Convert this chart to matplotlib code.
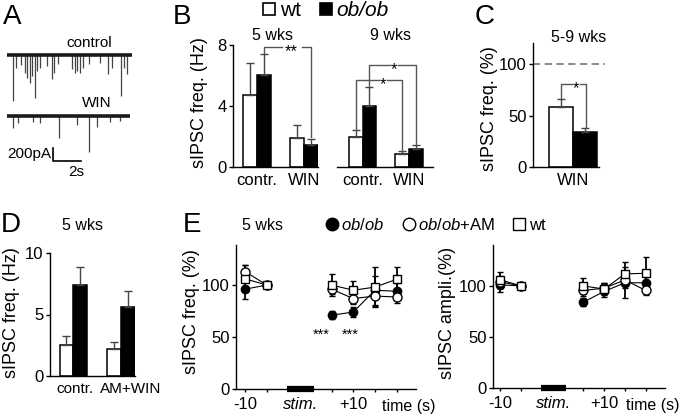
import numpy as np
import matplotlib
matplotlib.use('Agg')
import matplotlib.pyplot as plt
from matplotlib.lines import Line2D

plt.rcParams['font.family'] = ['Liberation Sans', 'DejaVu Sans']
plt.rcParams['font.size'] = 12
plt.rcParams['mathtext.fontset'] = 'custom'
plt.rcParams['mathtext.rm'] = 'Liberation Sans'
plt.rcParams['mathtext.it'] = 'Liberation Sans:italic'
plt.rcParams['axes.linewidth'] = 1.0

W, H = 680, 420

# --- A: example traces (event time s, amplitude pA) ---
ctrl_t = [0.45, 0.64, 0.98, 1.29, 1.45, 1.64, 1.81, 2.0, 2.17, 2.36, 2.83, 3.19, 3.36, 3.67,
          4.62, 4.86, 5.02, 5.21, 5.45, 5.88, 6.64, 7.24, 7.48, 8.12, 8.36, 8.55]
ctrl_amp = [708, 195, 150, 270, 350, 430, 320, 660, 245, 195, 170, 370, 270, 140,
            220, 270, 245, 270, 195, 140, 120, 300, 195, 630, 195, 300]
win_t = [0.45, 0.81, 1.88, 2.36, 3.74, 4.98, 5.88, 6.4, 7.36, 8.07]
win_amp = [190, 110, 90, 110, 345, 140, 550, 165, 90, 80]
trace_len = 8.9

# --- B: sIPSC freq (Hz) ---
b_groups = ['contr.', 'WIN']
b5_wt = [4.75, 1.93]
b5_wt_err = [2.05, 0.8]
b5_ob = [6.0, 1.47]
b5_ob_err = [1.39, 0.35]
b9_wt = [1.97, 0.83]
b9_wt_err = [0.43, 0.2]
b9_ob = [3.98, 1.18]
b9_ob_err = [1.27, 0.29]

# --- C: 5-9 wks, % ---
c_wt, c_wt_err = 58, 8
c_ob, c_ob_err = 34, 4

# --- D: 5 wks (Hz) ---
d_groups = ['contr.', 'AM+WIN']
d_wt = [2.51, 2.16]
d_wt_err = [0.76, 0.62]
d_ob = [7.38, 5.62]
d_ob_err = [1.48, 1.27]

# --- E: time course (%) ---
e_pos = [0, 1, 4, 5, 6, 7]
e_ticks = [0, 1, 4, 5, 6, 7, 8]
e_ticklabels = ['-10', '', '', '+10', '', '', '']
stim_on, stim_off = 1.95, 3.18

freq_ob = [96, 100, 71, 74, 95, 94]
freq_ob_err = [9.5, 0, 4, 5, 14, 8]
freq_obam = [113, 100, 96, 87, 89.4, 88.5]
freq_obam_err = [6, 0, 5, 5, 10, 6]
freq_wt = [106, 100, 100, 95, 98, 105.5]
freq_wt_err = [13, 0, 10.6, 9, 19, 12]

amp_ob = [101, 100, 84, 94.5, 103, 103]
amp_ob_err = [7, 0, 4, 5, 15, 6]
amp_obam = [104, 100, 95.5, 97.7, 105.8, 95.5]
amp_obam_err = [6, 0, 5, 5, 8, 4.5]
amp_wt = [106, 100, 100, 96.8, 111.7, 112.3]
amp_wt_err = [8, 0, 8, 6, 11.7, 15.6]

fig = plt.figure(figsize=(6.8, 4.2), dpi=100)


def box(l, t, r, b):
    return [l / W, 1 - b / H, (r - l) / W, (b - t) / H]


def label(x, y, s, **kw):
    kw.setdefault('ha', 'center')
    fig.text(x / W, 1 - y / H, s, va='center', **kw)


def style(ax, left=True):
    for s in ['top', 'right']:
        ax.spines[s].set_visible(False)
    if not left:
        ax.spines['left'].set_visible(False)
        ax.set_yticks([])
    ax.tick_params(axis='y', length=3, width=1, pad=1.5, labelsize=12)
    ax.tick_params(axis='x', length=0, pad=4, labelsize=12)


def bars(ax, wt, wt_err, ob, ob_err, w):
    x = np.arange(len(wt))
    ekw = dict(ecolor='#444444', capsize=3, elinewidth=1.0, capthick=1.0)
    ax.bar(x - w / 2, wt, w, yerr=[np.zeros(len(x)), wt_err], color='white',
           edgecolor='black', linewidth=1.1, error_kw=ekw)
    ax.bar(x + w / 2, ob, w, yerr=[np.zeros(len(x)), ob_err], color='black',
           edgecolor='black', linewidth=1.1, error_kw=ekw)


def bracket(ax, x0, x1, y, y0, y1, xs, gap, star):
    c = '#555555'
    ax.plot([x0, x0, xs - gap], [y0, y, y], color=c, lw=1.0, clip_on=False)
    ax.plot([xs + gap, x1, x1], [y, y, y1], color=c, lw=1.0, clip_on=False)
    ax.annotate(star, xy=(xs, y), xytext=(0, -6.5), textcoords='offset points',
                ha='center', va='baseline', fontsize=12, annotation_clip=False)


# ---------------- A ----------------
axA = fig.add_axes(box(0, 30, 140, 180))
axA.set_xlim(-0.5, 9.5)
axA.set_ylim(-1925, 385)
axA.axis('off')
win_base = -939
axA.vlines(ctrl_t, 0, -np.array(ctrl_amp), color='#444444', lw=0.9)
axA.vlines(win_t, win_base, win_base - np.array(win_amp), color='#444444', lw=0.9)
axA.plot([0, trace_len], [0, 0], color='#1a1a1a', lw=2.6, solid_capstyle='butt')
axA.plot([0, trace_len - 0.1], [win_base, win_base], color='#1a1a1a', lw=2.6,
         solid_capstyle='butt')
axA.plot([3.29, 3.29, 5.29], [-1432, -1632, -1632], color='black', lw=1.2)
label(89, 43, 'control', fontsize=11)
label(97, 103, 'WIN', fontsize=11)
label(51, 154, '200pA', fontsize=11, ha='right')
label(76, 172, '2s', fontsize=11)

# ---------------- B ----------------
axB1 = fig.add_axes(box(233, 45, 318, 167))
bars(axB1, b5_wt, b5_wt_err, b5_ob, b5_ob_err, 0.3)
axB1.set_xlim(-0.51, 1.30)
axB1.set_ylim(0, 8)
axB1.set_yticks([0, 4, 8])
axB1.set_xticks([0, 1], b_groups)
style(axB1)
bracket(axB1, 0.15, 1.15, 7.87, 7.45, 1.97, 0.74, 0.21, '**')

axB2 = fig.add_axes(box(337, 45, 433, 167))
bars(axB2, b9_wt, b9_wt_err, b9_ob, b9_ob_err, 0.3)
axB2.set_xlim(-0.55, 1.52)
axB2.set_ylim(0, 8)
axB2.set_xticks([0, 1], b_groups)
style(axB2, left=False)
bracket(axB2, 0.15, 1.15, 6.67, 5.3, 1.52, 0.68, 0.09, '*')
bracket(axB2, -0.15, 0.85, 5.68, 2.45, 1.08, 0.44, 0.08, '*')

label(199, 103, 'sIPSC freq. (Hz)', rotation=90, fontsize=13)
label(272, 36, '5 wks', fontsize=11.5)
label(390, 36, '9 wks', fontsize=11.5)

hB = [Line2D([], [], marker='s', ls='none', mfc='white', mec='black', ms=8, mew=1.2),
      Line2D([], [], marker='s', ls='none', mfc='black', mec='black', ms=8, mew=1.2)]
legB = fig.legend(hB, ['wt', 'ob/ob'], loc='center left', bbox_to_anchor=(263 / W, 1 - 11 / H),
                  ncol=2, frameon=False, borderpad=0, borderaxespad=0, handlelength=0.6,
                  handletextpad=0.2, columnspacing=0.9, fontsize=15)
legB.get_texts()[1].set_fontstyle('italic')

# ---------------- C ----------------
axC = fig.add_axes(box(533, 43, 599, 167))
axC.bar([-0.25], [c_wt], 0.5, yerr=[[0], [c_wt_err]], color='white', edgecolor='black',
        linewidth=1.1, error_kw=dict(ecolor='#444444', capsize=3, elinewidth=1.0, capthick=1.0))
axC.bar([0.25], [c_ob], 0.5, yerr=[[0], [c_ob_err]], color='black', edgecolor='black',
        linewidth=1.1, error_kw=dict(ecolor='#444444', capsize=3, elinewidth=1.0, capthick=1.0))
axC.set_xlim(-0.83, 0.54)
axC.set_ylim(0, 120.7)
axC.set_yticks([0, 50, 100])
axC.set_xticks([0], ['WIN'])
style(axC)
axC.plot([-0.83, 0.67], [100, 100], color='#808080', lw=1.3, ls=(0, (4, 2.5)), clip_on=False)
bracket(axC, -0.24, 0.26, 80.8, 67, 39, 0.06, 0.09, '*')
label(490, 109, 'sIPSC freq. (%)', rotation=90, fontsize=13)
label(579, 37, '5-9 wks', fontsize=11.5)

# ---------------- D ----------------
axD = fig.add_axes(box(50, 253, 135, 376))
bars(axD, d_wt, d_wt_err, d_ob, d_ob_err, 0.29)
axD.set_xlim(-0.49, 1.29)
axD.set_ylim(0, 10)
axD.set_yticks([0, 5, 10])
# labels sit a bit right of the bar groups in the original
axD.set_xticks([0.04, 1.2], d_groups)
style(axD)
axD.tick_params(axis='x', labelsize=11)
label(12, 313, 'sIPSC freq. (Hz)', rotation=90, fontsize=13)
label(82, 225, '5 wks', fontsize=11.5)


# ---------------- E ----------------
def timecourse(ax, ob, ob_err, obam, obam_err, wt, wt_err):
    series = [(ob, ob_err, 'o', 'black', 6), (obam, obam_err, 'o', 'white', 6.5),
              (wt, wt_err, 's', 'white', 6)]
    for vals, errs, mk, fc, ms in series:
        for seg in (slice(0, 2), slice(2, 6)):
            ax.errorbar(e_pos[seg], vals[seg], yerr=errs[seg], color='black', marker=mk,
                        mfc=fc, mec='black', ms=ms, mew=1.0, lw=0.8, elinewidth=1.3,
                        capsize=2.5, capthick=1.3)
    ax.plot([stim_on, stim_off], [0, 0], color='black', lw=4.5, solid_capstyle='butt',
            clip_on=False, zorder=5)
    ax.set_xticks(e_ticks, e_ticklabels)
    ax.set_yticks([0, 50, 100])
    for s in ['top', 'right']:
        ax.spines[s].set_visible(False)
    ax.tick_params(axis='y', length=3, width=1, pad=1.5, labelsize=12)
    ax.tick_params(axis='x', length=2.5, width=1, pad=3.5, labelsize=12)
    ax.annotate('stim.', xy=((stim_on + stim_off) / 2, 0), xycoords=('data', 'axes fraction'),
                xytext=(0, -6), textcoords='offset points', ha='center', va='top',
                fontsize=12, style='italic')


axE1 = fig.add_axes(box(236, 245, 416, 389))
timecourse(axE1, freq_ob, freq_ob_err, freq_obam, freq_obam_err, freq_wt, freq_wt_err)
axE1.set_xlim(-0.42, 7.9)
axE1.set_ylim(0, 138.5)
axE1.annotate('time (s)', xy=(7.57, 0), xycoords=('data', 'axes fraction'),
              xytext=(0, -7), textcoords='offset points', ha='center', va='top', fontsize=11.5)
for xs in [3.54, 4.86]:
    axE1.annotate('***', xy=(xs, 56.7), xytext=(0, -6), textcoords='offset points',
                  ha='center', va='baseline', fontsize=10.5)

axE2 = fig.add_axes(box(493, 245, 665, 388))
timecourse(axE2, amp_ob, amp_ob_err, amp_obam, amp_obam_err, amp_wt, amp_wt_err)
axE2.set_xlim(-0.34, 7.93)
axE2.set_ylim(0, 140)
axE2.annotate('time (s)', xy=(7.34, 0), xycoords=('data', 'axes fraction'),
              xytext=(0, -7), textcoords='offset points', ha='center', va='top', fontsize=11.5)

label(192, 312, 'sIPSC freq. (%)', rotation=90, fontsize=13)
label(447, 313, 'sIPSC ampli.(%)', rotation=90, fontsize=13)
label(263, 225, '5 wks', fontsize=11.5)

hE = [Line2D([], [], marker='o', ls='none', mfc='black', mec='black', ms=9),
      Line2D([], [], marker='o', ls='none', mfc='white', mec='black', ms=9, mew=1.0),
      Line2D([], [], marker='s', ls='none', mfc='white', mec='black', ms=8, mew=1.0)]
legE = fig.legend(hE, [r'$\mathit{ob/ob}$', r'$\mathit{ob/ob}$+AM', 'wt'], loc='center left',
                  bbox_to_anchor=(326 / W, 1 - 225 / H), ncol=3, frameon=False, borderpad=0,
                  borderaxespad=0, handlelength=0.72, handletextpad=0.2, columnspacing=1.1,
                  fontsize=12)

# panel letters
label(12, 17, 'A', fontsize=20)
label(182, 17, 'B', fontsize=20)
label(485, 17, 'C', fontsize=20)
label(11, 225, 'D', fontsize=20)
label(192, 225, 'E', fontsize=20)

fig.savefig('out.png', dpi=100)
